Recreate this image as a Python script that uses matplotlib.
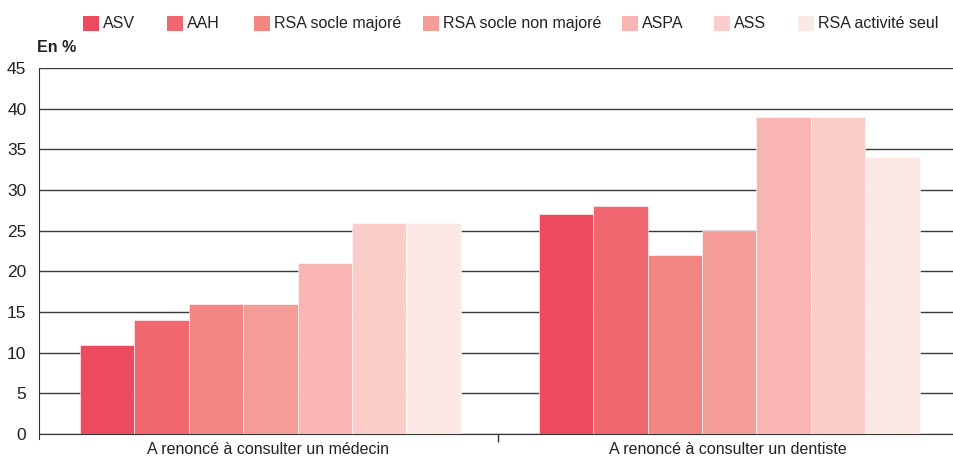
import matplotlib
matplotlib.use("Agg")
import matplotlib.pyplot as plt
import numpy as np
from matplotlib.patches import Rectangle

plt.rcParams["font.family"] = ["Liberation Sans", "DejaVu Sans"]

categories = ["A renoncé à consulter un médecin", "A renoncé à consulter un dentiste"]
series = ["ASV", "AAH", "RSA socle majoré", "RSA socle non majoré", "ASPA", "ASS", "RSA activité seul"]
ASV = [11, 27]
AAH = [14, 28]
RSA_socle_majore = [16, 22]
RSA_socle_non_majore = [16, 25]
ASPA = [21, 39]
ASS = [26, 39]
RSA_activite_seul = [26, 34]
values = [ASV, AAH, RSA_socle_majore, RSA_socle_non_majore, ASPA, ASS, RSA_activite_seul]
colors = ["#EC4B5F", "#F1676F", "#F38583", "#F49C98", "#F8B5B2", "#FACDC8", "#FCE8E5"]

W, H = 954, 459
fig = plt.figure(figsize=(W/100, H/100), dpi=100)
ax = fig.add_axes([39/W, (H-434)/H, 1 - 39/W + 0.003, (434-68)/H])

n = len(series)
group = 0.83
w = group / n
x = np.arange(len(categories))
for i, (s, v, c) in enumerate(zip(series, values, colors)):
    ax.bar(x - group/2 + w*(i+0.5) + 0.004, v, width=w, color=c, edgecolor="#FFFFFF", linewidth=0.4,
           label=s, zorder=3)

ax.set_ylim(0, 45)
ax.set_xlim(-0.5, 1.5)
ax.set_yticks(np.arange(0, 46, 5))
ax.yaxis.grid(True, color="#3a3a3a", linewidth=1.0, zorder=0)
ax.set_axisbelow(True)
ax.tick_params(axis="y", length=0, labelsize=12.5, colors="#222222", pad=9)
ax.set_xticks([0.5])
ax.set_xticklabels([])
ax.tick_params(axis="x", length=6, width=1, color="#333333")
for xi, lab in zip(x, categories):
    ax.text(xi, -1.0, lab, ha="center", va="top", fontsize=11.5, color="#222222")
for sp in ["top", "right"]:
    ax.spines[sp].set_visible(False)
ax.spines["left"].set_color("#333333")
ax.spines["bottom"].set_color("#333333")
ax.spines["left"].set_bounds(-0.6, 45)

fig.text(37/W, 1 - 48/H, "En %", ha="left", va="center", fontsize=11.5, fontweight="bold", color="#222222")

# legend entries placed as in the reference
leg_x = [83, 167, 254, 423, 622, 714, 798]
for px, s, c in zip(leg_x, series, colors):
    fig.patches.append(Rectangle((px/W, 1 - 31/H), 16/W, 15/H, transform=fig.transFigure,
                                 facecolor=c, edgecolor="none"))
    fig.text((px + 20)/W, 1 - 23.5/H, s, ha="left", va="center", fontsize=11.5, color="#222222")

fig.savefig("out.png", dpi=100)
